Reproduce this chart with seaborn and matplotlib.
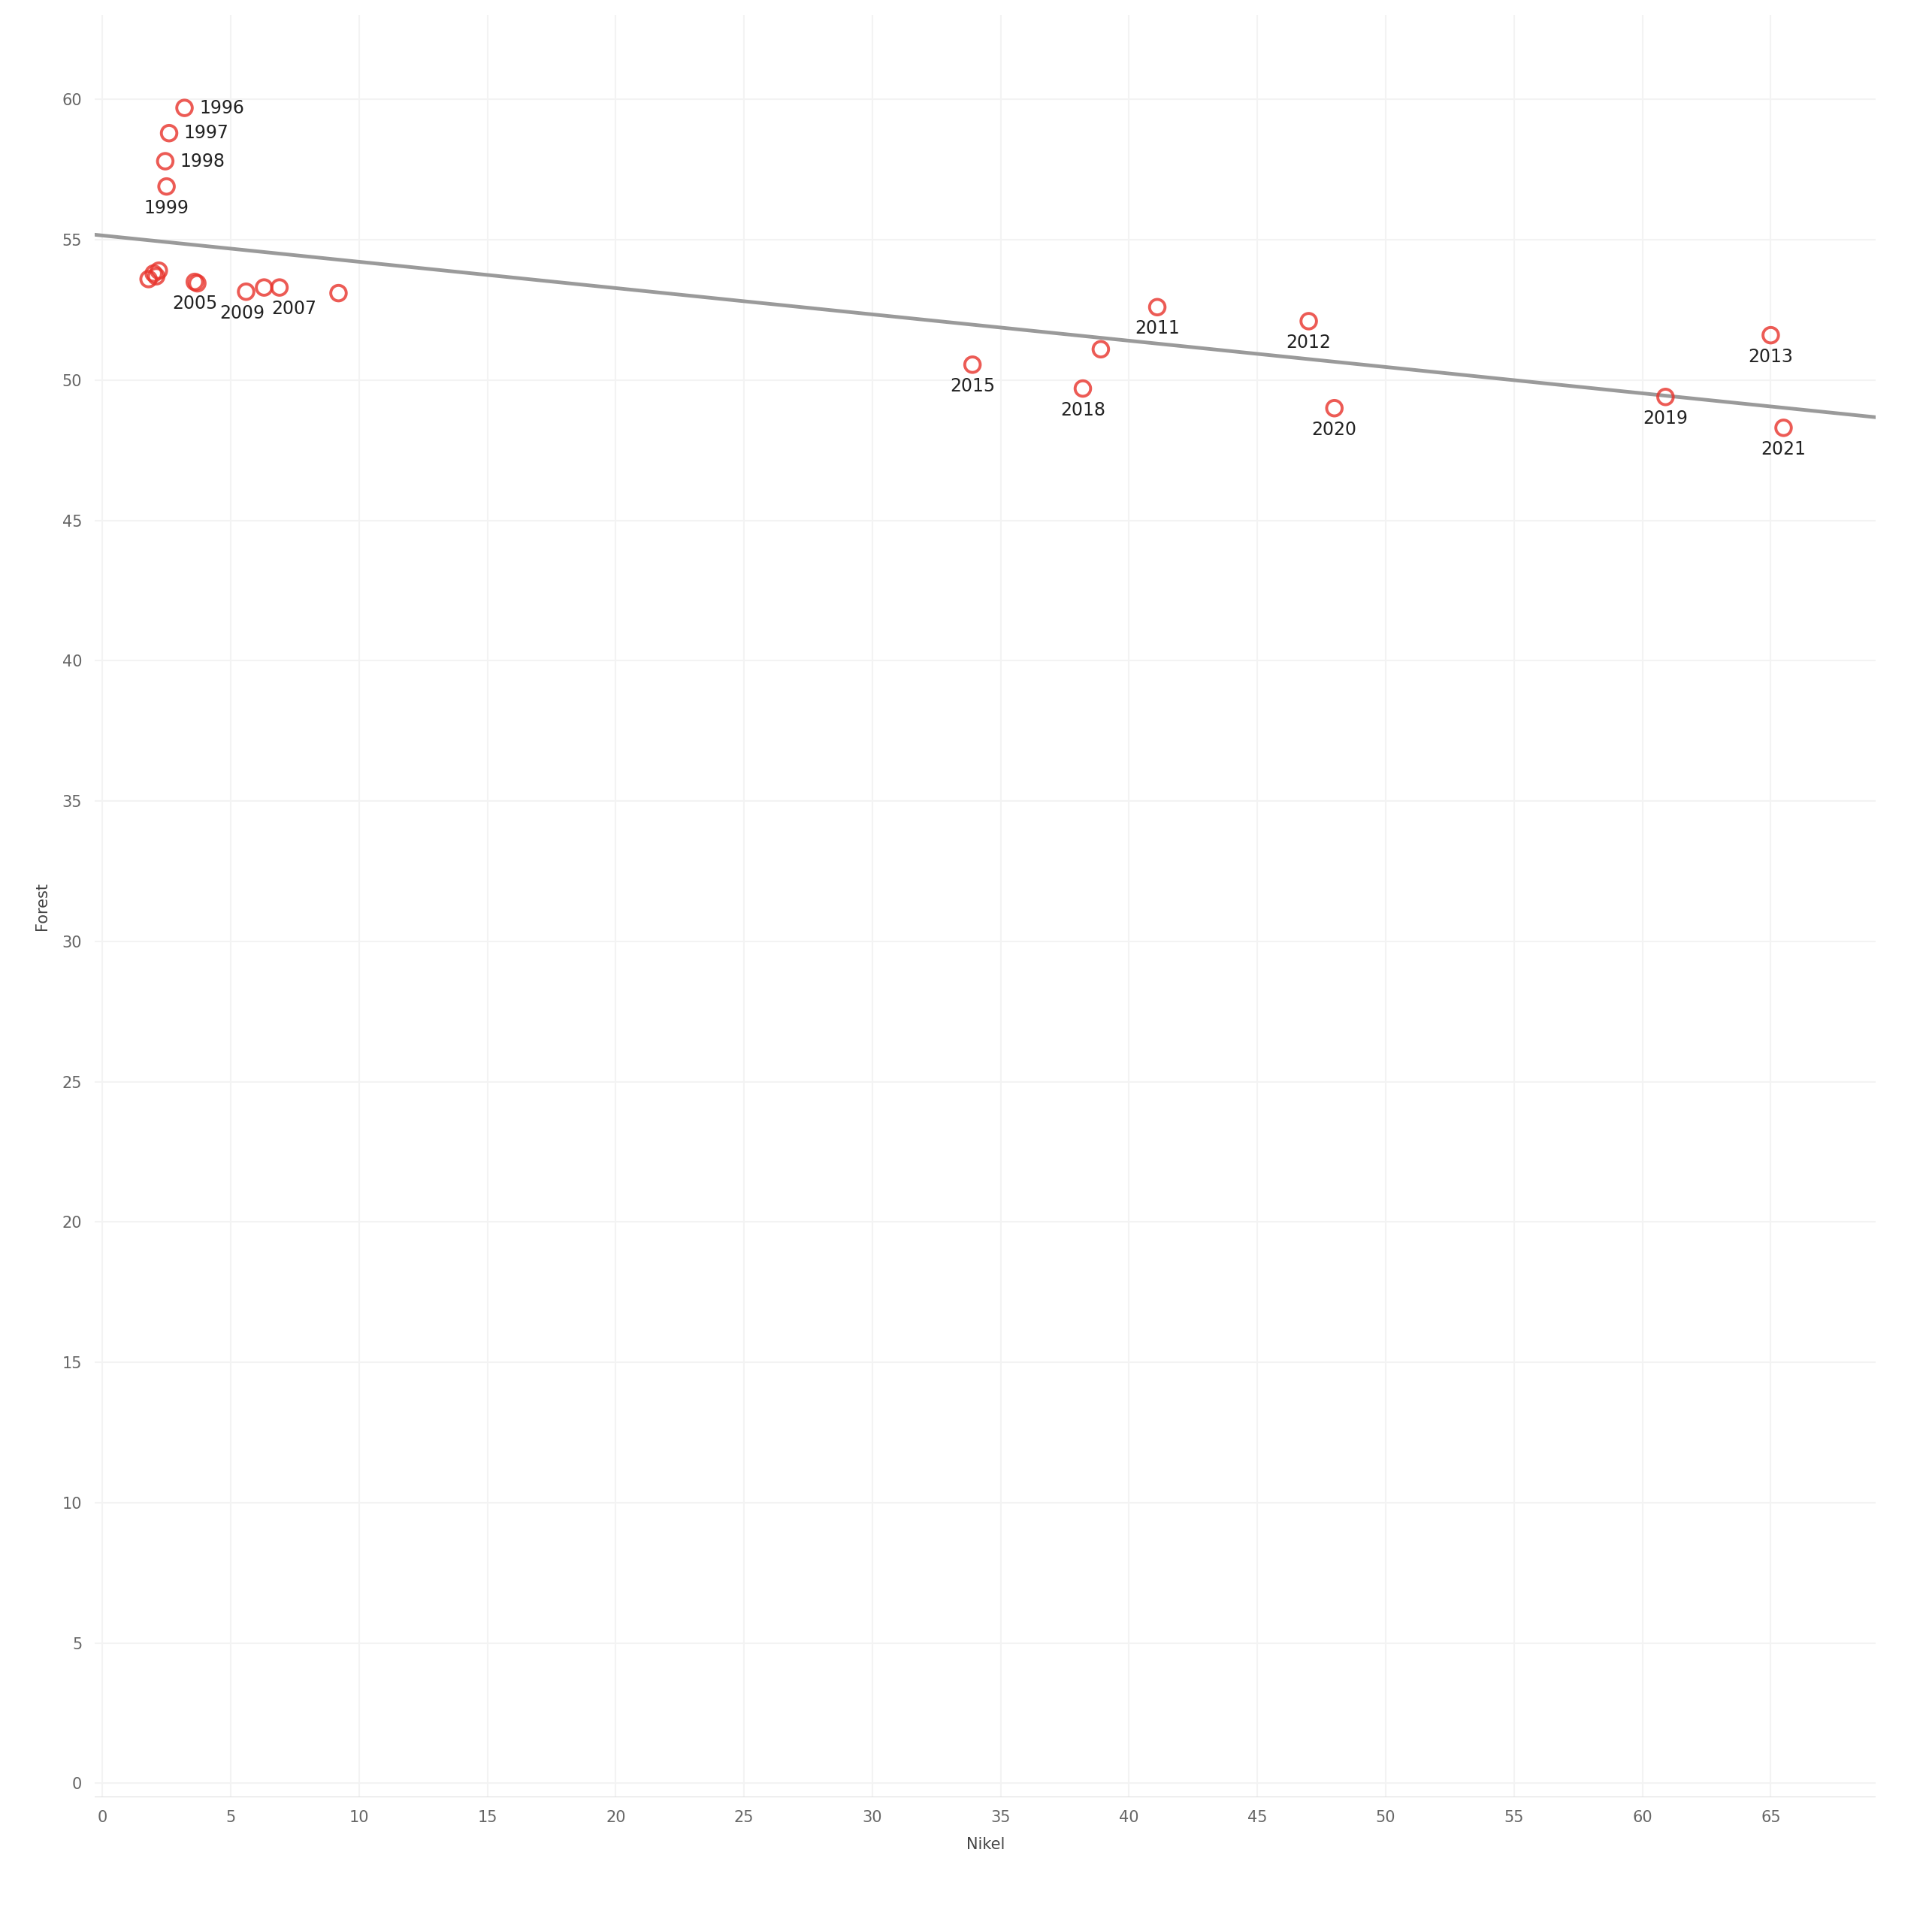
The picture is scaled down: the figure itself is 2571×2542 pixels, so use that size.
import matplotlib
matplotlib.use("Agg")
import matplotlib.pyplot as plt
import seaborn as sns
import pandas as pd

nikel = [3.2, 2.6, 2.45, 2.5, 1.8, 2.0, 2.2, 2.1, 3.6, 3.7, 5.6, 6.3, 6.9, 9.2,
         33.9, 38.2, 38.9, 41.1, 47.0, 48.0, 60.9, 65.0, 65.5]
forest = [59.7, 58.8, 57.8, 56.9, 53.6, 53.8, 53.9, 53.7, 53.5, 53.45, 53.15, 53.3, 53.3, 53.1,
          50.55, 49.7, 51.1, 52.6, 52.1, 49.0, 49.4, 51.6, 48.3]
labels = ["1996", "1997", "1998", "1999", "", "", "", "", "2005", "", "2009", "", "2007", "",
          "2015", "2018", "", "2011", "2012", "2020", "2019", "2013", "2021"]
df = pd.DataFrame({"Nikel": nikel, "Forest": forest, "label": labels})

sns.set_style("white")
fig = plt.figure(figsize=(25.71, 25.42), dpi=100)
ax = fig.add_axes([0.049, 0.059, 0.922, 0.933])
ax.set_xlim(-0.3, 69.1)
ax.set_ylim(-0.5, 63)
sns.regplot(data=df, x="Nikel", y="Forest", ci=None, truncate=False, ax=ax,
            scatter_kws=dict(s=220, facecolors="none", edgecolors="#e8322b", linewidths=2.8, zorder=3),
            line_kws=dict(color="#9a9a9a", lw=3.5, zorder=2))
dx_off = {"2009": -4, "2007": 14}
for x, y, t in zip(nikel, forest, labels):
    if not t:
        continue
    if t in ("1996", "1997", "1998"):
        ax.annotate(t, (x, y), xytext=(14, 0), textcoords="offset points", ha="left", va="center", fontsize=17, color="#222")
    else:
        ax.annotate(t, (x, y), xytext=(dx_off.get(t, 0), -12), textcoords="offset points", ha="center", va="top", fontsize=17, color="#222")
ax.set_xlim(-0.3, 69.1)
ax.set_ylim(-0.5, 63)
ax.set_xticks(range(0, 70, 5))
ax.set_yticks(range(0, 61, 5))
ax.grid(True, color="#f3f3f3", lw=1.5)
ax.tick_params(labelsize=15, colors="#666", length=0, pad=12)
for s in ax.spines.values():
    s.set_visible(False)
ax.axhline(-0.5, color="#dddddd", lw=1.5)
ax.set_xlabel("Nikel", fontsize=15, color="#444", labelpad=12)
ax.set_ylabel("Forest", fontsize=15, color="#444", labelpad=12)
fig.savefig("out.png", dpi=100)
